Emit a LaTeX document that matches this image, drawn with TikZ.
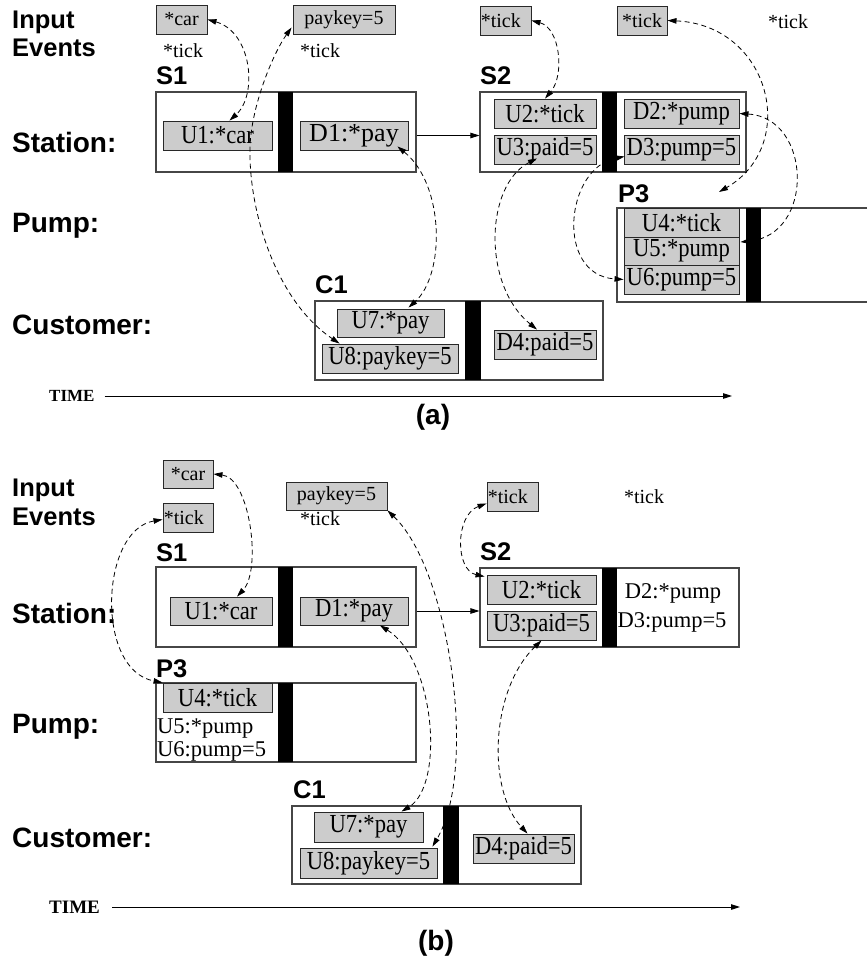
\documentclass[tikz,border=0pt]{standalone}
\usepackage{fontspec}
\setmainfont{Liberation Serif}
\setsansfont{Liberation Sans}
\newfontfamily\boxSerif[FakeStretch=0.87]{Liberation Serif}
\usetikzlibrary{arrows.meta,calc,fit}

\definecolor{evgray}{RGB}{204,204,204}
\definecolor{frmline}{RGB}{70,70,70}
\definecolor{evline}{RGB}{40,40,40}

\newcommand\rowFnt{\sffamily\bfseries\fontsize{28}{32}\selectfont}
\newcommand\lblFnt{\sffamily\bfseries\fontsize{25.5}{30}\selectfont}
\newcommand\capFnt{\sffamily\bfseries\fontsize{28}{32}\selectfont}
\newcommand\boxFnt{\boxSerif\fontsize{26}{30}\selectfont}
\newcommand\plainFnt{\fontsize{22.5}{26}\selectfont}
\newcommand\evFnt{\fontsize{20}{24}\selectfont}

\begin{document}
\begin{tikzpicture}[x=1pt,y=-1pt,
  >={Triangle[length=9pt,width=5.5pt]},
  sz/.style 2 args={minimum width=#1pt, minimum height=#2pt},
  frm/.style={draw=frmline, line width=1.1pt, fill=white, inner sep=0pt},
  bar/.style={fill=black, draw=none, inner sep=0pt},
  ev/.style={draw=evline, line width=0.9pt, fill=evgray, inner sep=0pt, font=\boxFnt},
  inp/.style={ev, font=\evFnt},
  txt/.style={inner sep=0pt, font=\plainFnt},
  itxt/.style={inner sep=0pt, font=\evFnt},
  lbl/.style={inner sep=0pt, font=\lblFnt, anchor=base west},
  row/.style={inner sep=0pt, font=\rowFnt, anchor=base west},
  tm/.style={inner sep=0pt, font=\bfseries\fontsize{#1}{#1}\selectfont, anchor=west},
  link/.style={<->, dash pattern=on 5pt off 3.5pt, line width=0.8pt},
  flow/.style={->, line width=1pt}]
\useasboundingbox (0,0) rectangle (867,963);

% ---------------- (a) ----------------
% row labels
\node[lbl] (ina) at (12,29) {Input};
\node[lbl] (eva) at (12,57) {Events};
\node[row] (sta) at (12,153) {Station:};
\node[row] (pma) at (12,232) {Pump:};
\node[row] (cua) at (12,334) {Customer:};

% input events
\node[inp, sz={51}{29}] (cara) at (181.5,19.5) {*car};
\node[itxt] (ticka1) at (183,51) {*tick};
\node[inp, sz={102}{29}] (pka) at (344,19.5) {paykey=5};
\node[itxt] (ticka2) at (320,51) {*tick};
\node[inp, sz={51}{29}] (tka3) at (505.5,20.5) {};
\node[itxt, anchor=west] (tka3t) at ([xshift=1pt]tka3.west) {*tick};
\node[inp, sz={50}{29}] (tka4) at (642,20.5) {*tick};
\node[itxt] (ticka5) at (788,22) {*tick};

% station S1
\node[lbl] (s1al) at (156,85) {S1};
\node[frm, fit={(156,92) (416,172)}] (s1a) {};
\node[bar, fit={(278,92) (293,172)}] (s1abar) {};
\node[ev, sz={109}{29}] (u1a) at (217.5,135.5) {U1:*car};
\node[ev, sz={108}{29}, font=\fontsize{26}{30}\selectfont] (d1a) at (354,135.5) {D1:*pay};

% station S2
\node[lbl] (s2al) at (480,85) {S2};
\node[frm, fit={(480,92) (746,172)}] (s2a) {};
\node[bar, fit={(602,92) (617,172)}] (s2abar) {};
\node[ev, sz={102}{29}] (u2a) at (545,113.5) {U2:*tick};
\node[ev, sz={102}{29}] (u3a) at (545,149.5) {U3:paid=5};
\node[ev, sz={115}{29}] (d2a) at (681.5,113.5) {D2:*pump};
\node[ev, sz={115}{29}] (d3a) at (681.5,149.5) {D3:pump=5};

% pump P3 (runs on past the right edge)
\node[lbl] (p3al) at (618,202) {P3};
\draw[draw=frmline, line width=1.1pt, fill=white] (867,208) -| (617,302) -- (867,302);
\node[bar, fit={(746,208) (761,302)}] (p3abar) {};
\node[ev, sz={115}{29}] (u4a) at (681.5,222.5) {U4:*tick};
\node[ev, sz={115}{28}] (u5a) at (681.5,251) {U5:*pump};
\node[ev, sz={115}{29}] (u6a) at (681.5,279.5) {U6:pump=5};

% customer C1
\node[lbl] (c1al) at (315,293) {C1};
\node[frm, fit={(315,301) (603,380)}] (c1a) {};
\node[bar, fit={(465,301) (481,380)}] (c1abar) {};
\node[ev, sz={107}{28}] (u7a) at (390.5,323) {U7:*pay};
\node[ev, sz={136}{29}] (u8a) at (390,358.5) {U8:paykey=5};
\node[ev, sz={102}{29}] (d4a) at (545,344.5) {D4:paid=5};

% time axis and caption
\node[tm=17] (timea) at (49,396) {TIME};
\coordinate (timeaend) at (732,396);
\draw[flow] ($(timea.east)+(10,0)$) -- (timeaend);
\node[inner sep=0pt, font=\capFnt] (capa) at (433,417) {(a)};

% connectors
\draw[flow] (d1a.east -| s1a.east) -- (d1a.east -| s2a.west);
\draw[link] (cara.east) .. controls (252,32) and (258,95) .. ($(u1a.north)+(12,0)$);
\draw[link] ($(pka.west)+(-1,8)$) .. controls (272,55) and (250,110) .. (250,150)
            .. controls (249,210) and (275,300) .. ($(u8a.north west)+(18,0)$);
\draw[link] ($(d1a.south east)+(-11,-4)$) .. controls (445,185) and (445,275) .. ($(u7a.north)+(18,-1)$);
\draw[link] ($(u3a.south)+(-8,-6)$) .. controls (485,185) and (482,285) .. ($(d4a.north)+(-8,0)$);
\draw[link] (tka3.east) .. controls (560,28) and (565,75) .. (u2a.north);
\coordinate (p3atip) at (719,192);
\draw[link] (tka4.east) .. controls (770,25) and (800,145) .. (p3atip);
\draw[link] (d2a.east) .. controls (812,118) and (815,235) .. ($(u5a.east)+(1,-9)$);
\draw[link] ($(d3a.west)+(1,7)$) .. controls (565,168) and (555,275) .. (u6a.west);

% ---------------- (b) ----------------
\node[lbl] (inb) at (12,496) {Input};
\node[lbl] (evb) at (12,525) {Events};
\node[row] (stb) at (12,623) {Station:};
\node[row] (pmb) at (12,733) {Pump:};
\node[row] (cub) at (12,847) {Customer:};

% input events
\node[inp, sz={50}{28}] (carb) at (188,474) {*car};
\node[inp, sz={50}{29}] (tkb1) at (188,517.5) {};
\node[itxt, anchor=west] (tkb1t) at ([xshift=1pt]tkb1.west) {*tick};
\node[inp, sz={101}{28}] (pkb) at (336.5,496) {paykey=5};
\node[itxt] (tickb2) at (320,519) {*tick};
\node[inp, sz={51}{29}] (tkb3) at (512.5,496.5) {};
\node[itxt, anchor=west] (tkb3t) at ([xshift=1pt]tkb3.west) {*tick};
\node[itxt] (tickb4) at (644,497) {*tick};

% station S1
\node[lbl] (s1bl) at (156,561) {S1};
\node[frm, fit={(156,567) (416,647)}] (s1b) {};
\node[bar, fit={(278,567) (293,647)}] (s1bbar) {};
\node[ev, sz={102}{28}] (u1b) at (221,611) {U1:*car};
\node[ev, sz={108}{28}] (d1b) at (354,611) {D1:*pay};

% station S2
\node[lbl] (s2bl) at (480,560) {S2};
\node[frm, fit={(480,568) (739,647)}] (s2b) {};
\node[bar, fit={(602,568) (617,647)}] (s2bbar) {};
\node[ev, sz={109}{29}] (u2b) at (541.5,589.5) {U2:*tick};
\node[ev, sz={109}{29}] (u3b) at (541.5,625.5) {U3:paid=5};
\node[txt, anchor=base] (d2b) at (673,598) {D2:*pump};
\node[txt, anchor=base] (d3b) at (672,627) {D3:pump=5};

% pump P3
\node[lbl] (p3bl) at (156,677) {P3};
\node[frm, fit={(156,683) (416,762)}] (p3b) {};
\node[bar, fit={(278,683) (293,762)}] (p3bbar) {};
\node[ev, sz={109}{29}] (u4b) at (217.5,697.5) {U4:*tick};
\node[txt, anchor=base west] (u5b) at (157,733) {U5:*pump};
\node[txt, anchor=base west] (u6b) at (157,756) {U6:pump=5};

% customer C1
\node[lbl] (c1bl) at (293,798) {C1};
\node[frm, fit={(292,806) (581,884)}] (c1b) {};
\node[bar, fit={(443,806) (459,884)}] (c1bbar) {};
\node[ev, sz={109}{30}] (u7b) at (368.5,827) {U7:*pay};
\node[ev, sz={137}{30}] (u8b) at (368.5,863) {U8:paykey=5};
\node[ev, sz={101}{29}] (d4b) at (523.5,848.5) {D4:paid=5};

% time axis and caption
\node[tm=19] (timeb) at (49,907) {TIME};
\coordinate (timebend) at (740,907);
\draw[flow] ($(timeb.east)+(12,0)$) -- (timebend);
\node[inner sep=0pt, font=\capFnt] (capb) at (436,943) {(b)};

% connectors
\draw[flow] (d1b.east -| s1b.east) -- (d1b.east -| s2b.west);
\draw[link] (carb.east) .. controls (250,478) and (262,570) .. ($(u1b.north)+(16,0)$);
\draw[link] ($(tkb1.west)+(0,2)$) .. controls (100,530) and (95,670) .. (u4b.north west);
\draw[link] (pkb.south east) .. controls (450,570) and (478,770) .. ($(u8b.north east)+(-5,-1)$);
\draw[link] ($(d1b.south)+(26,0)$) .. controls (435,660) and (445,785) .. ($(u7b.north)+(33,0)$);
\draw[link] ($(tkb3.south west)+(0,-8)$) .. controls (455,515) and (455,570) .. ($(u2b.north west)+(-2,2)$);
\draw[link] (u3b.south) .. controls (490,690) and (487,790) .. ($(d4b.north)+(4,0)$);
\end{tikzpicture}
\end{document}
